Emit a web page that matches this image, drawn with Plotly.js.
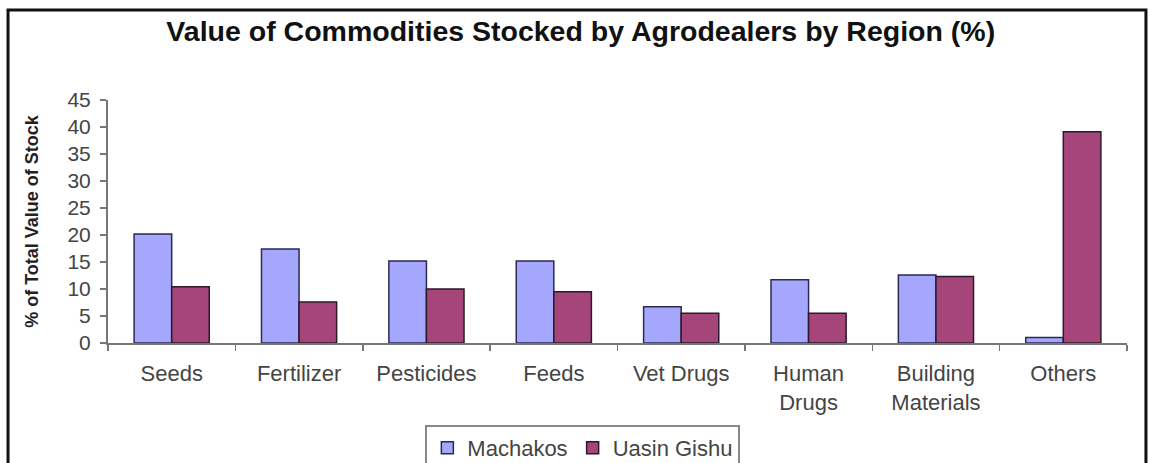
<!DOCTYPE html>
<html>
<head>
<meta charset="utf-8">
<script src="https://cdn.plot.ly/plotly-3.0.1.min.js"></script>
<style>
html,body{margin:0;padding:0;background:#fff;}
#chart{width:1150px;height:463px;}
</style>
</head>
<body>
<div id="chart"></div>
<script>
const categories = ["Seeds","Fertilizer","Pesticides","Feeds","Vet Drugs","Human<br>Drugs","Building<br>Materials","Others"];
const machakos = [20.2, 17.4, 15.2, 15.2, 6.7, 11.7, 12.6, 1.0];
const uasinGishu = [10.4, 7.6, 10.0, 9.5, 5.5, 5.5, 12.3, 39.1];
const yTicks = [0,5,10,15,20,25,30,35,40,45];

const FONT = "Liberation Sans, Arial, sans-serif";

const traces = [
  {type:"bar", name:"Machakos", x:categories, y:machakos,
   marker:{color:"#a4a7fb", line:{color:"#2a2a55", width:1.5}}},
  {type:"bar", name:"Uasin Gishu", x:categories, y:uasinGishu,
   marker:{color:"#a6457a", line:{color:"#2a1a2a", width:1.5}}}
];

const layout = {
  width:1150, height:463,
  margin:{l:108, r:23, t:100, b:120, pad:0, autoexpand:false},
  paper_bgcolor:"#fff", plot_bgcolor:"#fff",
  barmode:"group", bargap:0.41, bargroupgap:0,
  font:{family:FONT, color:"#444"},
  title:{text:"<b>Value of Commodities Stocked by Agrodealers by Region (%)</b>",
         font:{family:FONT, size:28.5, color:"#111"}, x:0.505, xanchor:"center", y:0.933, yanchor:"middle"},
  xaxis:{type:"category", showgrid:false, zeroline:false, showline:true, linecolor:"#777", linewidth:2,
         ticks:"outside", tickson:"boundaries", ticklen:6, tickcolor:"#777", tickwidth:1.5,
         ticklabelstandoff:10,
         tickfont:{family:FONT, size:22, color:"#444"}},
  yaxis:{range:[0,45], tickvals:yTicks, ticktext:yTicks.map(String), showgrid:false, zeroline:false,
         showline:true, linecolor:"#777", linewidth:2, ticks:"outside", ticklen:6, tickcolor:"#777", tickwidth:1.5,
         ticklabelstandoff:5,
         tickfont:{family:FONT, size:21, color:"#444"},
         title:{text:"<b>% of Total Value of Stock</b>", font:{family:FONT, size:18, color:"#222"}, standoff:24}},
  showlegend:true,
  legend:{orientation:"h", x:0.466, xanchor:"center", y:-0.337, yanchor:"top",
          bordercolor:"#888", borderwidth:2, bgcolor:"#fff",
          font:{family:FONT, size:22, color:"#444"}, itemwidth:30, tracegroupgap:0},
  shapes:[{type:"rect", xref:"paper", yref:"paper", x0:-0.0981, x1:1.0186, y0:-0.6, y1:1.3704,
           line:{color:"#111", width:3}, fillcolor:"rgba(0,0,0,0)", layer:"below"}]
};

Plotly.newPlot("chart", traces, layout, {staticPlot:true, displayModeBar:false});
</script>
</body>
</html>
